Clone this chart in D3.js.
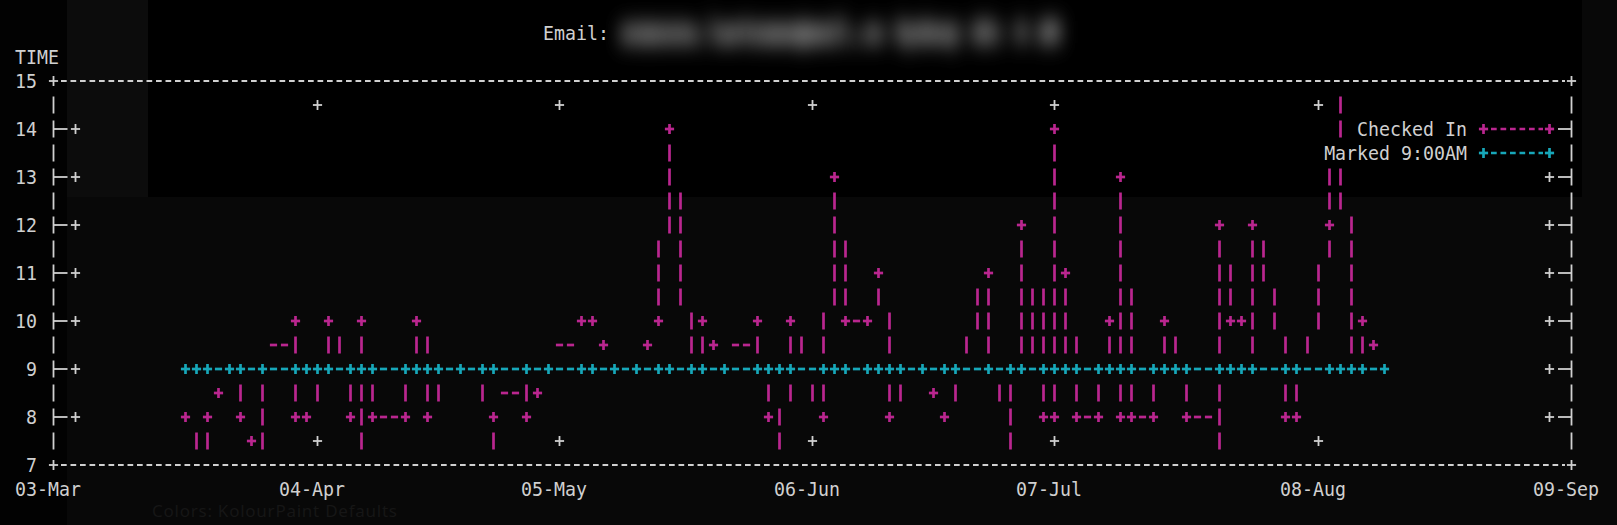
<!DOCTYPE html>
<html><head><meta charset="utf-8">
<script src="https://cdn.jsdelivr.net/npm/d3@7"></script>
<style>
html,body{margin:0;padding:0;background:#080808;}
svg{display:block;}
</style></head>
<body>
<svg id="chart" width="1617" height="525"></svg>
<script>
// ---------------- data ----------------
const tickDates = ["2024-03-03","2024-04-04","2024-05-05","2024-06-06","2024-07-07","2024-08-08","2024-09-09"];
const yTicks = [7, 8, 9, 10, 11, 12, 13, 14, 15];
const seriesNames = ["Checked In", "Marked 9:00AM"];

const checkedInDates = [
 "2024-03-19","2024-03-20","2024-03-22","2024-03-23","2024-03-24","2024-03-26","2024-03-27","2024-03-28 01:00","2024-03-28 15:00",
 "2024-04-01","2024-04-01 14:00","2024-04-03","2024-04-04","2024-04-05","2024-04-07","2024-04-08","2024-04-09","2024-04-10","2024-04-11",
 "2024-04-15","2024-04-16","2024-04-17 12:00","2024-04-18","2024-04-19","2024-04-22","2024-04-25","2024-04-26","2024-04-27",
 "2024-04-30 18:00","2024-05-01 06:00","2024-05-02","2024-05-03","2024-05-08","2024-05-09","2024-05-10","2024-05-12","2024-05-15",
 "2024-05-16","2024-05-17","2024-05-19","2024-05-22","2024-05-23","2024-05-24","2024-05-26","2024-05-30","2024-05-31","2024-06-02",
 "2024-06-03","2024-06-04","2024-06-07","2024-06-09","2024-06-10","2024-06-13","2024-06-14","2024-06-15 18:00","2024-06-16 06:00",
 "2024-06-17","2024-06-20","2024-06-21","2024-06-23","2024-06-24","2024-06-28","2024-06-29","2024-06-30","2024-07-01","2024-07-03",
 "2024-07-04","2024-07-05","2024-07-06","2024-07-06 12:00","2024-07-07","2024-07-08","2024-07-10","2024-07-12","2024-07-14",
 "2024-07-14 18:00","2024-07-15 06:00","2024-07-16","2024-07-19","2024-07-20","2024-07-22","2024-07-23","2024-07-26 12:00",
 "2024-07-27","2024-07-27 12:00","2024-07-28","2024-07-30","2024-07-30 18:00","2024-07-31 06:00","2024-08-03 18:00","2024-08-04 06:00",
 "2024-08-05","2024-08-05 12:00","2024-08-07","2024-08-09","2024-08-11","2024-08-12","2024-08-13","2024-08-15"
];
const checkedInTimes = [
 8, 6.5, 8, 8.5, 9, 8, 7.5, 6, 9,
 10, 8, 8, 9, 10, 9, 8, 6.5, 10, 8,
 8, 10, 9, 8, 9, 9, 9, 6.5, 8,
 9, 8, 8.5, 9, 10, 10, 9.5, 9, 9,
 9.5, 10, 14, 9, 10, 9.5, 9, 10, 8, 6.5,
 10, 9, 8, 13, 10, 10, 11, 9, 8,
 9, 9, 8.5, 8, 9, 11, 9, 9, 6.5, 12,
 9, 9, 8, 14, 8, 11, 8, 8, 10,
 8, 13, 8, 8, 10, 9, 8, 8,
 6.5, 12, 10, 10, 9, 12, 9, 8,
 8, 9, 9, 12, 16, 9, 10, 9.5
];

const markedDates = [
 "2024-03-19","2024-03-20","2024-03-22","2024-03-24","2024-03-26","2024-03-28","2024-04-01","2024-04-03","2024-04-04","2024-04-05",
 "2024-04-08","2024-04-09","2024-04-11","2024-04-15","2024-04-16","2024-04-18","2024-04-19","2024-04-22","2024-04-25","2024-04-26",
 "2024-05-01","2024-05-03","2024-05-08","2024-05-09","2024-05-12","2024-05-15","2024-05-17","2024-05-19","2024-05-22","2024-05-23",
 "2024-05-26","2024-05-30","2024-05-31","2024-06-02","2024-06-03","2024-06-07","2024-06-09","2024-06-10","2024-06-13","2024-06-14",
 "2024-06-16","2024-06-17","2024-06-20","2024-06-23","2024-06-24","2024-06-28","2024-07-01","2024-07-03","2024-07-05","2024-07-07",
 "2024-07-08","2024-07-10","2024-07-12","2024-07-14","2024-07-15","2024-07-16","2024-07-19","2024-07-20","2024-07-22","2024-07-23",
 "2024-07-27","2024-07-28","2024-07-30","2024-07-31","2024-08-04","2024-08-05","2024-08-09","2024-08-11","2024-08-12","2024-08-13",
 "2024-08-16"
];
const markedTimes = [
 9,9,9,9,9,9,9,9,9,9, 9,9,9,9,9,9,9,9,9,9, 9,9,9,9,9,9,9,9,9,9, 9,9,9,9,9,9,9,9,9,9,
 9,9,9,9,9,9,9,9,9,9, 9,9,9,9,9,9,9,9,9,9, 9,9,9,9,9,9,9,9,9,9, 9
];

// ---------------- layout / style ----------------
const W = 1617, H = 525;
const CW = 11, RH = 24, X0 = 15, Y0 = 81;     // character cell geometry
const px = c => X0 + CW * (c + 0.5);
const py = r => Y0 + RH * r;
const WHITE = "#d0d0d0", MAGENTA = "#ba268f", CYAN = "#17a7b9";
const FONT = "'DejaVu Sans Mono', monospace", FS = 18.27;

const parseD = d3.utcParse("%Y-%m-%d"), parseDH = d3.utcParse("%Y-%m-%d %H:%M");
const pd = s => s.length > 10 ? parseDH(s) : parseD(s);

// scales: dates -> terminal column, hours -> terminal row
const x = d3.scaleUtc().domain(tickDates.map(pd)).range([3, 27, 49, 72, 94, 118, 141]);
const y = d3.scaleLinear().domain([7, 15]).range([16, 0]);
const TOP = 0, BOT = 16, LEFT = 3, RIGHT = 141;

const svg = d3.select("#chart");
svg.append("rect").attr("width", W).attr("height", H).attr("fill", "#080808");
svg.append("rect").attr("x", 0).attr("y", 0).attr("width", 67).attr("height", H).attr("fill", "#020202");
svg.append("rect").attr("x", 67).attr("y", 0).attr("width", 81).attr("height", 197).attr("fill", "#0c0c0c");
svg.append("rect").attr("x", 148).attr("y", 0).attr("width", 1434).attr("height", 197).attr("fill", "#000000");
// faint ghost of a window behind the terminal
svg.append("text").attr("x", 152).attr("y", 517).attr("font-family", "'Noto Sans', sans-serif").attr("font-size", 17)
  .attr("textLength", 245).attr("fill", "#161616").text("Colors: KolourPaint Defaults");

// ---------------- character raster (dumb-terminal style) ----------------
const grid = new Map();
function put(c, r, ch, color) { grid.set(c + "," + r, { c, r, ch, color }); }

function vec(c0, r0, c1, r1, color) {
  const dc = c1 - c0, dr = r1 - r0, adc = Math.abs(dc), adr = Math.abs(dr);
  const g0 = BOT - r0, g1 = BOT - r1, dg = g1 - g0;   // y-up coordinates
  put(c0, r0, "+", color);
  if (adr >= adc && adr > 0) {
    for (let k = 1; k < adr; k++) put(c0 + Math.trunc(dc * k / adr + 0.5), r0 + k * Math.sign(dr), "|", color);
  } else if (adc > adr) {
    for (let k = 1; k < adc; k++) put(c0 + k * Math.sign(dc), BOT - (g0 + Math.trunc(dg * k / adc + 0.5)), "-", color);
  }
  put(c1, r1, "+", color);
}

function drawSeries(dates, values, color) {
  const pts = dates.map((d, i) => [Math.round(x(pd(d))), Math.round(y(values[i]))]);
  for (let i = 0; i < pts.length - 1; i++) {
    let [c0, r0] = pts[i], [c1, r1] = pts[i + 1];
    const in0 = r0 >= TOP && r0 <= BOT, in1 = r1 >= TOP && r1 <= BOT;
    if (!in0 && !in1) continue;
    if (!in0) { const rb = r0 < TOP ? TOP : BOT; const t = (rb - r1) / (r0 - r1); c0 = Math.round(c1 + t * (c0 - c1)); r0 = rb; }
    if (!in1) { const rb = r1 < TOP ? TOP : BOT; const t = (rb - r0) / (r1 - r0); c1 = Math.round(c0 + t * (c1 - c0)); r1 = rb; }
    vec(c0, r0, c1, r1, color);
  }
}

drawSeries(checkedInDates, checkedInTimes, MAGENTA);
drawSeries(markedDates, markedTimes, CYAN);

// border (front) and tics
for (let c = LEFT + 1; c < RIGHT; c++) { put(c, TOP, "-", WHITE); put(c, BOT, "-", WHITE); }
for (let r = TOP + 1; r < BOT; r++) { put(LEFT, r, "|", WHITE); put(RIGHT, r, "|", WHITE); }
[[LEFT, TOP], [RIGHT, TOP], [LEFT, BOT], [RIGHT, BOT]].forEach(([c, r]) => put(c, r, "+", WHITE));
yTicks.forEach(v => {
  const r = Math.round(y(v));
  if (r <= TOP || r >= BOT) return;
  put(LEFT + 1, r, "-", WHITE); put(LEFT + 2, r, "+", WHITE);
  put(RIGHT - 2, r, "+", WHITE); put(RIGHT - 1, r, "-", WHITE);
});
tickDates.forEach(d => {
  const c = Math.round(x(pd(d)));
  if (c <= LEFT || c >= RIGHT) return;
  put(c, TOP + 1, "+", WHITE); put(c, BOT - 1, "+", WHITE);
});

// legend samples
const legendColors = [MAGENTA, CYAN];
seriesNames.forEach((name, i) => {
  const r = 2 + i;
  put(133, r, "+", legendColors[i]);
  for (let c = 134; c < 139; c++) put(c, r, "-", legendColors[i]);
  put(139, r, "+", legendColors[i]);
  for (let c = 132 - name.length; c < 132; c++) grid.delete(c + "," + r);
});

// ---------------- render glyphs ----------------
const g = svg.append("g").attr("stroke-linecap", "butt");
const cellAt = (c, r) => grid.get(c + "," + r);
const sw = col => col === WHITE ? 1.8 : 2.7;
function line(x1, y1, x2, y2, color, dash) {
  const l = g.append("line").attr("x1", x1).attr("y1", y1).attr("x2", x2).attr("y2", y2)
    .attr("stroke", color).attr("stroke-width", sw(color));
  if (dash) l.attr("stroke-dasharray", dash);
}
const done = new Set();
Array.from(grid.values()).forEach(cell => {
  const { c, r, ch, color } = cell;
  const cx = px(c), cy = py(r);
  if (ch === "|") line(cx, cy - 8.5, cx, cy + 8.5, color);
  else if (ch === "+") { line(cx - 4.6, cy, cx + 4.6, cy, color); line(cx, cy - 5, cx, cy + 5, color); }
  else if (ch === "-") {
    if (done.has(c + "," + r)) return;
    const L = cellAt(c - 1, r), R = cellAt(c + 1, r);
    if (L && L.ch === "|") { line(px(c - 1), cy, cx + 3, cy, color); return; }
    if (R && R.ch === "|") { line(cx - 2.5, cy, px(c + 1), cy, color); return; }
    let a = c, b = c;
    while (true) { const n = cellAt(a - 1, r); if (n && n.ch === "-" && n.color === color) a--; else break; }
    while (true) { const n = cellAt(b + 1, r); if (n && n.ch === "-" && n.color === color) b++; else break; }
    for (let k = a; k <= b; k++) done.add(k + "," + r);
    if (b - a + 1 >= 3) line(X0 + CW * a + 2, cy, X0 + CW * (b + 1) - 1, cy, color, "5.7 3.8");
    else for (let k = a; k <= b; k++) line(px(k) - 3.6, cy, px(k) + 3.6, cy, color);
  }
});

// ---------------- text ----------------
const T = svg.append("g").attr("font-family", FONT).attr("font-size", FS).attr("fill", WHITE);
function text(str, xx, r, anchor, fill) {
  return T.append("text").attr("transform", `translate(${xx},${py(r) + 7.2}) scale(1,1.1)`)
    .attr("text-anchor", anchor || "start").attr("fill", fill || WHITE).text(str);
}
text("TIME", X0, -1);
yTicks.forEach(v => text(d3.format("d")(v), X0 + 2 * CW, Math.round(y(v)), "end"));
const fmt = d3.utcFormat("%d-%b");
tickDates.forEach(d => text(fmt(pd(d)), X0 + CW * Math.round(x(pd(d))), BOT + 1, "middle"));
seriesNames.forEach((name, i) => text(name, X0 + CW * 132, 2 + i, "end"));
text("Email:", X0 + CW * 48, -2);

// redacted (blurred) address in the title
const defs = svg.append("defs");
defs.append("filter").attr("id", "blur").attr("x", "-10%").attr("y", "-150%").attr("width", "120%").attr("height", "400%")
  .append("feGaussianBlur").attr("stdDeviation", 8);
T.append("text").attr("transform", `translate(${X0 + CW * 55},${py(-2) + 8}) scale(1,1.4)`)
  .attr("fill", "#8c8c8c").attr("stroke", "#8c8c8c").attr("stroke-width", 3)
  .attr("filter", "url(#blur)").text("someone.lastname@mail.co  Sydney AU: 9 AM");
</script>
</body></html>
